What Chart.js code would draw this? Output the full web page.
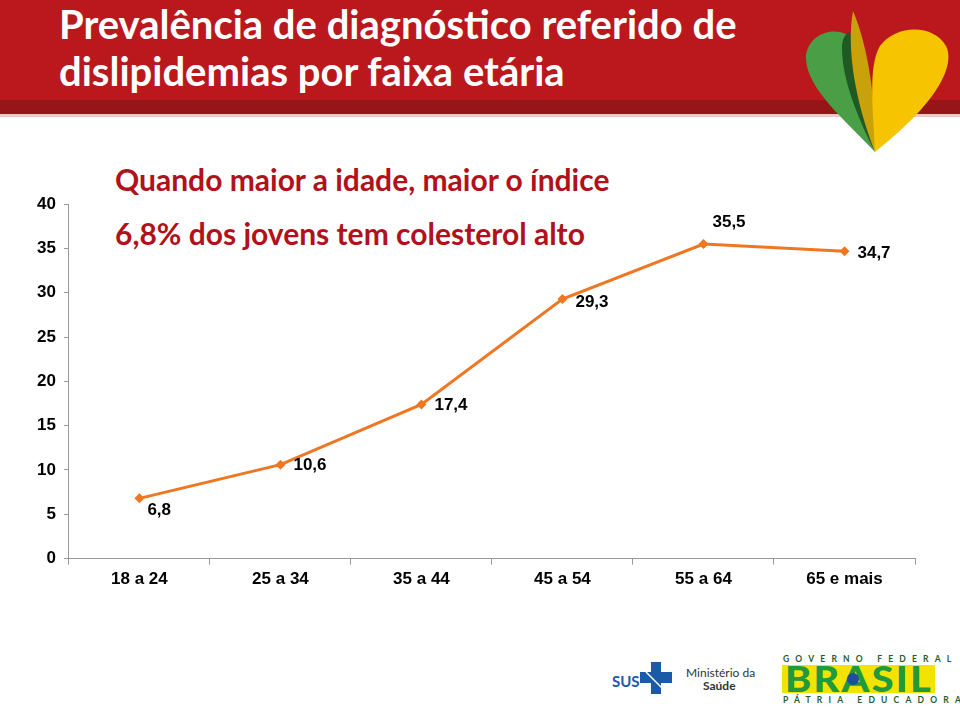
<!DOCTYPE html>
<html>
<head>
<meta charset="utf-8">
<script src="https://cdn.jsdelivr.net/npm/chart.js@4/dist/chart.umd.min.js"></script>
<style>
  body { margin: 0; width: 960px; height: 707px; background: #fff; position: relative; overflow: hidden; font-family: Lato, "Open Sans", sans-serif; }
  #header { position: absolute; left: 0; top: 0; width: 960px; height: 100px; background: #BA181D; }
  #header-strip { position: absolute; left: 0; top: 100px; width: 960px; height: 14px; background: #961618; }
  #header-shadow { position: absolute; left: 0; top: 114px; width: 960px; height: 3px; background: #e9c9ca; }
  #title { position: absolute; left: 59px; top: 1px; color: #fff; font-family: Lato, sans-serif; font-weight: bold; font-size: 40px; line-height: 47px; letter-spacing: 0px; }
  #heart { position: absolute; left: 800px; top: 0; }
  .note { position: absolute; left: 115px; color: #B0111A; font-family: Lato, sans-serif; font-weight: bold; font-size: 30px; white-space: nowrap; }
  #chart-box { position: absolute; left: 0; top: 186px; width: 960px; height: 409px; }
  #footer { position: absolute; left: 600px; top: 640px; width: 360px; height: 67px; }
</style>
</head>
<body>
<div id="header"></div>
<div id="header-strip"></div>
<div id="header-shadow"></div>
<div id="title">Prevalência de diagnóstico referido de<br>dislipidemias por faixa etária</div>
<svg id="heart" width="160" height="160" viewBox="800 0 160 160">
  <path d="M875,152 C845,120 806,88 806,58 C806,38 828,26 846,34 C852,80 862,118 875,152 Z" fill="#4A9E45"/>
  <path d="M875,152 C858,118 842,80 842,48 C842,38 846,33 850,32 C856,80 866,118 875,152 Z" fill="#1F5A24"/>
  <path d="M875,152 C856,104 846,50 853,11 C868,46 876,100 875,152 Z" fill="#C9A10A"/>
  <path d="M875,152 C873,108 868,66 880,46 C896,24 934,24 946,46 C956,66 936,104 875,152 Z" fill="#F6C400"/>
</svg>
<div class="note" style="top:161px;">Quando maior a idade, maior o índice</div>
<div class="note" style="top:215px;">6,8% dos jovens tem colesterol alto</div>
<div id="chart-box"><canvas id="chart"></canvas></div>
<svg id="footer" width="360" height="67" viewBox="600 640 360 67">
  <text x="612" y="687" font-family="Lato, sans-serif" font-weight="bold" font-size="15" fill="#1B5AA6">SUS</text>
  <rect x="651" y="662" width="10" height="32" fill="#1B5AA6"/>
  <rect x="640" y="672" width="32" height="11" fill="#1B5AA6"/>
  <line x1="646" y1="672" x2="664" y2="690" stroke="#fff" stroke-width="1.5"/>
  <text x="686" y="677" font-family="Lato, sans-serif" font-size="12" fill="#333">Ministério da</text>
  <text x="703" y="690" font-family="Lato, sans-serif" font-weight="bold" font-size="12" fill="#333">Saúde</text>
  <text x="783" y="662" font-family="Lato, sans-serif" font-weight="bold" font-size="8.5" letter-spacing="6.2" fill="#1E5E2C">GOVERNO FEDERAL</text>
  <rect x="782" y="665" width="153" height="28" fill="#F3E300"/>
  <text x="785" y="692" font-family="Lato, sans-serif" font-weight="900" font-size="36" letter-spacing="2" fill="#209A3C" textLength="148" lengthAdjust="spacingAndGlyphs">BRASIL</text>
  <circle cx="853" cy="679" r="6" fill="#1F4E9E"/>
  <text x="783" y="703" font-family="Lato, sans-serif" font-weight="bold" font-size="8.5" letter-spacing="6.2" fill="#1E5E2C">PÁTRIA EDUCADORA</text>
</svg>
<script>
const ageGroups = ["18 a 24", "25 a 34", "35 a 44", "45 a 54", "55 a 64", "65 e mais"];
const prevalence = [6.8, 10.6, 17.4, 29.3, 35.5, 34.7];
const yTicks = [0, 5, 10, 15, 20, 25, 30, 35, 40];

// label placement relative to each point (right side, some shifted up/down)
const labelShift = [[8, 12], [13, 1], [13, 1], [13, 3], [9, -22], [13, 2]];

const valueLabels = {
  id: "valueLabels",
  afterDatasetsDraw(chart) {
    const ctx = chart.ctx;
    const meta = chart.getDatasetMeta(0);
    ctx.save();
    ctx.font = "bold 17px 'Liberation Sans', Arial, sans-serif";
    ctx.fillStyle = "#000";
    ctx.textAlign = "left";
    ctx.textBaseline = "middle";
    meta.data.forEach((pt, i) => {
      const txt = prevalence[i].toFixed(1).replace(".", ",");
      ctx.fillText(txt, pt.x + labelShift[i][0], pt.y + labelShift[i][1]);
    });
    ctx.restore();
  }
};

new Chart(document.getElementById("chart"), {
  type: "line",
  data: {
    labels: ageGroups,
    datasets: [{
      data: prevalence,
      borderColor: "#F07722",
      backgroundColor: "#F07722",
      borderWidth: 3,
      pointStyle: "rectRot",
      pointRadius: 5,
      pointBorderWidth: 0,
      tension: 0
    }]
  },
  options: {
    responsive: true,
    maintainAspectRatio: false,
    animation: false,
    layout: { padding: { left: 29, right: 45, top: 1, bottom: 0 } },
    plugins: { legend: { display: false }, tooltip: { enabled: false } },
    scales: {
      x: {
        offset: true,
        grid: { display: true, offset: true, drawOnChartArea: false, drawTicks: true, tickLength: 6, color: "#999" },
        border: { color: "#999", width: 1 },
        ticks: { color: "#000", font: { family: "'Liberation Sans', Arial, sans-serif", size: 17, weight: "bold" }, padding: 5 }
      },
      y: {
        min: 0,
        max: 40,
        afterBuildTicks: axis => { axis.ticks = yTicks.map(v => ({ value: v })); },
        grid: { display: true, drawOnChartArea: false, drawTicks: true, tickLength: 5, color: "#999" },
        border: { color: "#999", width: 1 },
        ticks: { color: "#000", font: { family: "'Liberation Sans', Arial, sans-serif", size: 17, weight: "bold" }, padding: 8 }
      }
    }
  },
  plugins: [valueLabels]
});
</script>
</body>
</html>
